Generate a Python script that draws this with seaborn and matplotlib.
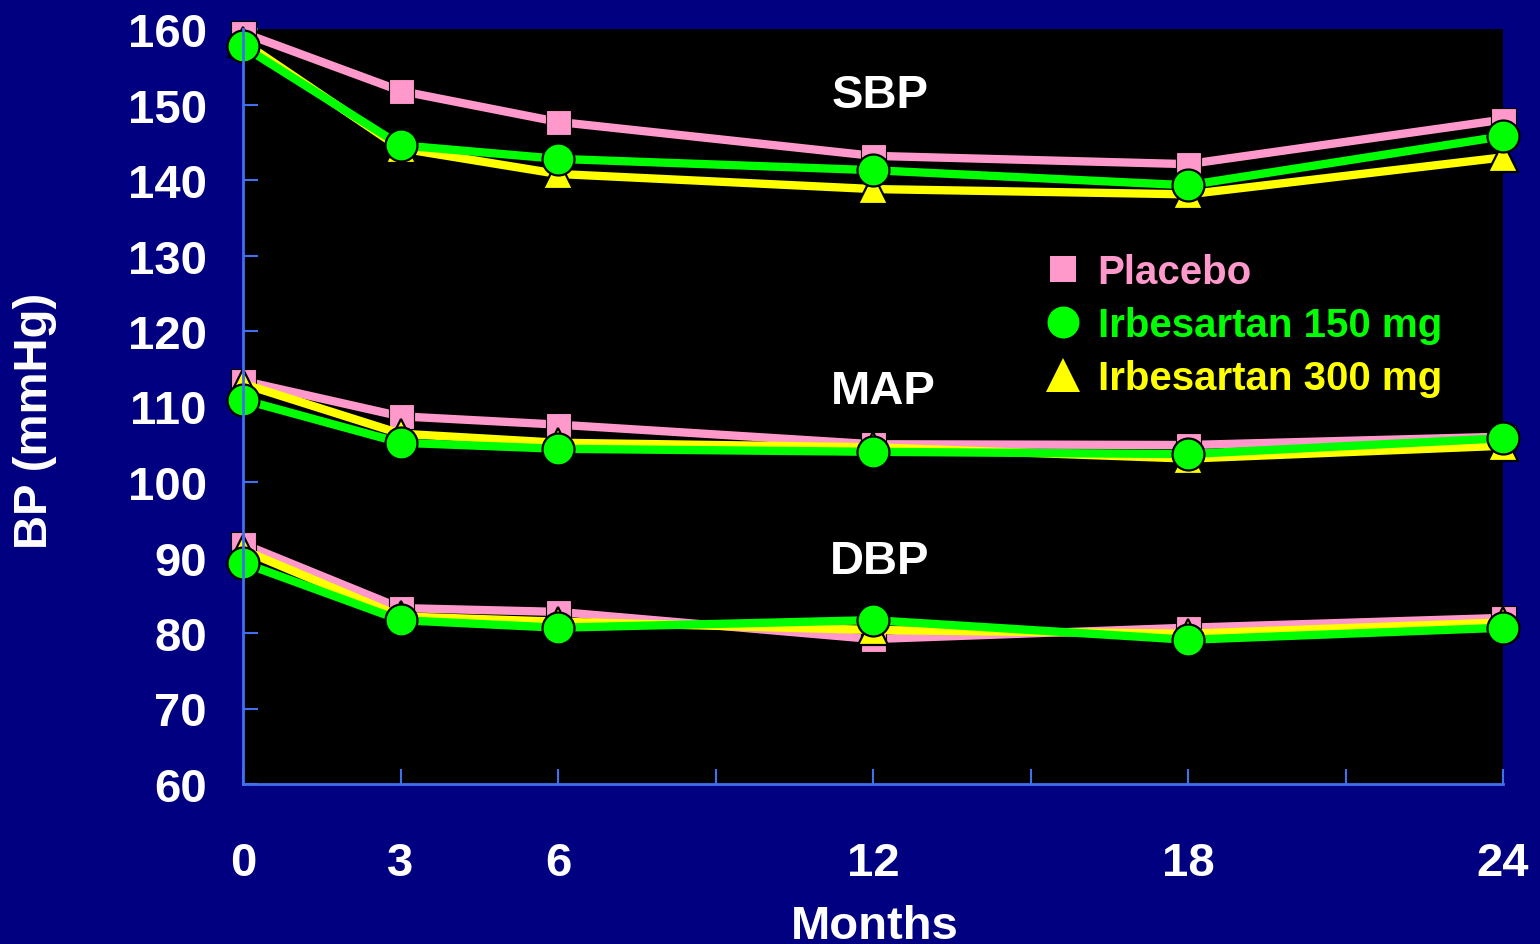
import pandas as pd
import matplotlib.pyplot as plt
import seaborn as sns
from matplotlib.lines import Line2D

# values
months = [0, 3, 6, 12, 18, 24]

sbp_placebo = [159.5, 151.8, 147.7, 143.2, 142.1, 148.0]
sbp_irb150 = [157.7, 144.6, 142.8, 141.3, 139.3, 145.8]
sbp_irb300 = [158.3, 144.2, 140.8, 138.8, 138.1, 143.0]

map_placebo = [113.4, 108.7, 107.6, 105.0, 104.9, 106.0]
map_irb150 = [110.9, 105.2, 104.4, 104.0, 103.7, 105.8]
map_irb300 = [113.0, 106.4, 105.2, 104.6, 103.1, 104.8]

dbp_placebo = [91.8, 83.3, 82.8, 79.2, 80.7, 82.0]
dbp_irb150 = [89.3, 81.7, 80.7, 81.7, 79.1, 80.7]
dbp_irb300 = [91.0, 82.2, 81.5, 80.4, 79.9, 81.4]

groups = ['Placebo', 'Irbesartan 150 mg', 'Irbesartan 300 mg']
measures = ['SBP', 'MAP', 'DBP']
xtick_vals = [0, 3, 6, 9, 12, 15, 18, 21, 24]
xtick_labels = ['0', '3', '6', '', '12', '', '18', '', '24']
ytick_vals = [60, 70, 80, 90, 100, 110, 120, 130, 140, 150, 160]

series = {
    ('SBP', 'Placebo'): sbp_placebo,
    ('SBP', 'Irbesartan 150 mg'): sbp_irb150,
    ('SBP', 'Irbesartan 300 mg'): sbp_irb300,
    ('MAP', 'Placebo'): map_placebo,
    ('MAP', 'Irbesartan 150 mg'): map_irb150,
    ('MAP', 'Irbesartan 300 mg'): map_irb300,
    ('DBP', 'Placebo'): dbp_placebo,
    ('DBP', 'Irbesartan 150 mg'): dbp_irb150,
    ('DBP', 'Irbesartan 300 mg'): dbp_irb300,
}

rows = []
for (m, g), vals in series.items():
    for mo, v in zip(months, vals):
        rows.append({'Measure': m, 'Group': g, 'Month': mo, 'BP': v})
data = pd.DataFrame(rows)

colors = {'Placebo': '#ff99cc', 'Irbesartan 150 mg': '#00ff00', 'Irbesartan 300 mg': '#ffff00'}
markers = {'Placebo': 's', 'Irbesartan 150 mg': 'o', 'Irbesartan 300 mg': '^'}
msizes = {'Placebo': 18, 'Irbesartan 150 mg': 23, 'Irbesartan 300 mg': 22}
edgew = {'Placebo': 0.8, 'Irbesartan 150 mg': 1.6, 'Irbesartan 300 mg': 1.6}
# pink at the bottom, then yellow, green on top
zorders = {'Placebo': 3, 'Irbesartan 300 mg': 4, 'Irbesartan 150 mg': 5}

navy = '#000080'
axis_blue = '#4070f0'

plt.rcParams['font.family'] = ['Liberation Sans', 'DejaVu Sans']
plt.rcParams['font.weight'] = 'bold'

fig = plt.figure(figsize=(15.4, 9.45), dpi=100, facecolor=navy)
ax = fig.add_axes([243 / 1540, 1 - 785 / 945, 1260 / 1540, 755 / 945])
ax.set_facecolor('black')

for g in groups:
    sub = data[data['Group'] == g]
    sns.lineplot(
        data=sub, x='Month', y='BP', units='Measure', estimator=None, sort=False,
        color=colors[g], linewidth=6, marker=markers[g], markersize=msizes[g],
        markeredgecolor='black', markeredgewidth=edgew[g],
        ax=ax, zorder=zorders[g], clip_on=False, legend=False,
    )

ax.set_xlim(0, 24)
ax.set_ylim(60, 160)
ax.set_xticks(xtick_vals)
ax.set_xticklabels(xtick_labels)
ax.set_yticks(ytick_vals)
ax.tick_params(axis='both', direction='in', length=11, width=1.5, color=axis_blue,
               labelcolor='white', labelsize=34)
ax.tick_params(axis='x', pad=41)
ax.tick_params(axis='y', pad=26)
for lab in ax.get_xticklabels() + ax.get_yticklabels():
    lab.set_fontweight('bold')

for side in ['top', 'right']:
    ax.spines[side].set_visible(False)
for side in ['left', 'bottom']:
    ax.spines[side].set_color(axis_blue)
    ax.spines[side].set_linewidth(2)
    ax.spines[side].set_zorder(10)

ax.set_xlabel('')
ax.set_ylabel('')

# measure labels
ax.text(12.13, 151.3, 'SBP', color='white', fontsize=34, fontweight='bold', ha='center', va='center')
ax.text(12.19, 112.0, 'MAP', color='white', fontsize=34, fontweight='bold', ha='center', va='center')
ax.text(12.13, 89.6, 'DBP', color='white', fontsize=34, fontweight='bold', ha='center', va='center')

fig.text(35 / 1540, 1 - 421 / 945, 'BP (mmHg)', rotation=90, color='white', fontsize=34,
         fontweight='bold', ha='center', va='center')
fig.text(875 / 1540, 1 - 939 / 945, 'Months', color='white', fontsize=34,
         fontweight='bold', ha='center', va='baseline')

handles = [
    Line2D([], [], linestyle='none', marker=markers[g], color=colors[g],
           markersize={'Placebo': 19, 'Irbesartan 150 mg': 23, 'Irbesartan 300 mg': 25}[g],
           markeredgewidth=0)
    for g in groups
]
leg = ax.legend(handles, groups, loc='upper left',
                bbox_to_anchor=((1019 - 243) / 1260, (785 - 234) / 755),
                frameon=False, fontsize=29, handlelength=1.2, handletextpad=0.25,
                labelspacing=0.37, borderpad=0)
for txt, g in zip(leg.get_texts(), groups):
    txt.set_color(colors[g])
    txt.set_fontweight('bold')

fig.savefig('out.png', dpi=100, facecolor=navy)
